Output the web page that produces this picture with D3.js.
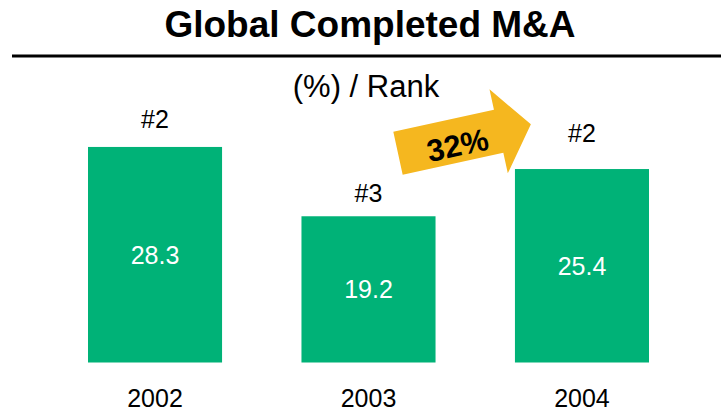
<!DOCTYPE html>
<html>
<head>
    <meta charset="utf-8">
    <title>Global Completed M&amp;A</title>
    <script src="https://d3js.org/d3.v7.min.js"></script>
    <style>
        body, html {
            margin: 0;
            background: #fff;
            overflow: hidden;
        }
        svg text {
            font-family: "Liberation Sans", Arial, sans-serif;
        }
    </style>
</head>
<body>
<div id="chart"></div>
<script>
    // chart data
    const years = ["2002", "2003", "2004"];
    const shares = [28.3, 19.2, 25.4];
    const ranks = ["#2", "#3", "#2"];
    const growthLabel = "32%";

    const width = 721,
          height = 414,
          green = "#00b277",
          amber = "#f5b71f";

    // gap between bar top and the rank label baseline (labels sit at uneven heights)
    const rankGap = [19, 14, 27];

    const svg = d3.select("#chart")
                  .append("svg")
                  .attr("width", width)
                  .attr("height", height);

    // title + rule
    svg.append("text")
       .attr("x", 370)
       .attr("y", 37)
       .attr("text-anchor", "middle")
       .style("font-size", "37px")
       .style("font-weight", "bold")
       .text("Global Completed M&A");

    svg.append("line")
       .attr("x1", 12).attr("x2", width)
       .attr("y1", 56).attr("y2", 56)
       .attr("stroke", "#000")
       .attr("stroke-width", 3);

    svg.append("text")
       .attr("x", 366)
       .attr("y", 97)
       .attr("text-anchor", "middle")
       .style("font-size", "31px")
       .text("(%) / Rank");

    // scales
    const x = d3.scaleBand()
                .domain(years)
                .range([88, 649])
                .paddingInner(0.372)
                .paddingOuter(0);

    const y = d3.scaleLinear()
                .domain([0, 30])
                .range([362.5, 134]);

    const bars = svg.append("g")
                    .selectAll("g")
                    .data(years.map((yr, i) => ({year: yr, value: shares[i], rank: ranks[i], gap: rankGap[i]})))
                    .join("g");

    bars.append("rect")
        .attr("x", d => x(d.year))
        .attr("y", d => y(d.value))
        .attr("width", x.bandwidth())
        .attr("height", d => y(0) - y(d.value))
        .attr("fill", green);

    bars.append("text")
        .attr("x", d => x(d.year) + x.bandwidth() / 2)
        .attr("y", d => (y(d.value) + y(0)) / 2 + 9)
        .attr("text-anchor", "middle")
        .attr("fill", "#fff")
        .style("font-size", "25px")
        .text(d => d.value.toFixed(1));

    bars.append("text")
        .attr("x", d => x(d.year) + x.bandwidth() / 2)
        .attr("y", d => y(d.value) - d.gap)
        .attr("text-anchor", "middle")
        .style("font-size", "25px")
        .text(d => d.rank);

    // year labels along the bottom
    bars.append("text")
        .attr("x", d => x(d.year) + x.bandwidth() / 2)
        .attr("y", 407)
        .attr("text-anchor", "middle")
        .style("font-size", "25px")
        .text(d => d.year);

    // growth arrow, drawn flat then tilted
    const shaftLen = 103, shaftHalf = 22, headHalf = 43, tipLen = 136;
    const arrow = svg.append("g")
                     .attr("transform", "translate(398,153.3) rotate(-12.3)");

    arrow.append("path")
         .attr("d", d3.line()([
             [0, -shaftHalf], [shaftLen, -shaftHalf], [shaftLen, -headHalf],
             [tipLen, 0],
             [shaftLen, headHalf], [shaftLen, shaftHalf], [0, shaftHalf]
         ]) + "Z")
         .attr("fill", amber);

    arrow.append("text")
         .attr("x", 60)
         .attr("y", 15.5)
         .attr("text-anchor", "middle")
         .style("font-size", "31px")
         .style("font-weight", "bold")
         .text(growthLabel);
</script>
</body>
</html>
